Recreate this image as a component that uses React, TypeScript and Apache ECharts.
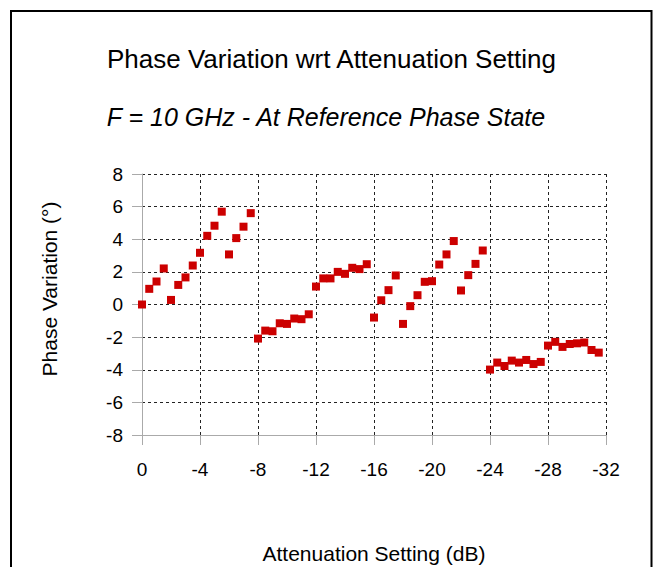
import React, { useEffect, useRef } from "react";
import * as echarts from "echarts";

const attenuation: number[] = [
  0, -0.5, -1, -1.5, -2, -2.5, -3, -3.5, -4, -4.5, -5, -5.5, -6, -6.5, -7, -7.5,
  -8, -8.5, -9, -9.5, -10, -10.5, -11, -11.5, -12, -12.5, -13, -13.5, -14, -14.5, -15, -15.5,
  -16, -16.5, -17, -17.5, -18, -18.5, -19, -19.5, -20, -20.5, -21, -21.5, -22, -22.5, -23, -23.5,
  -24, -24.5, -25, -25.5, -26, -26.5, -27, -27.5, -28, -28.5, -29, -29.5, -30, -30.5, -31, -31.5,
];

const phaseVariation: number[] = [
  0, 0.96, 1.41, 2.21, 0.28, 1.2, 1.66, 2.39, 3.17, 4.21, 4.83, 5.69, 3.07, 4.07, 4.77, 5.6,
  -2.09, -1.6, -1.64, -1.15, -1.19, -0.86, -0.9, -0.6, 1.1, 1.6, 1.6, 2.0, 1.88, 2.25, 2.17, 2.47,
  -0.8, 0.26, 0.88, 1.78, -1.19, -0.1, 0.57, 1.39, 1.43, 2.45, 3.07, 3.89, 0.86, 1.8, 2.49, 3.31,
  -3.99, -3.56, -3.77, -3.44, -3.56, -3.4, -3.65, -3.52, -2.52, -2.29, -2.6, -2.42, -2.38, -2.33, -2.79, -2.95,
];

const titleText = "Phase Variation wrt Attenuation Setting";
const subtitleText = "F = 10 GHz - At Reference Phase State";
const xAxisName = "Attenuation Setting (dB)";
const yAxisName = "Phase Variation (°)";

const FONT = "'Liberation Sans', Arial, sans-serif";

export default function App() {
  const ref = useRef<HTMLDivElement>(null);

  useEffect(() => {
    if (!ref.current) return;
    const chart = echarts.init(ref.current, undefined, { renderer: "svg" });
    const points = attenuation.map((x, i) => [x, phaseVariation[i]]);
    chart.setOption({
      animation: false,
      backgroundColor: "#ffffff",
      textStyle: { fontFamily: FONT },
      grid: { left: 142, top: 174, width: 464, height: 261, containLabel: false },
      xAxis: {
        type: "value",
        min: -32,
        max: 0,
        interval: 4,
        inverse: true,
        axisLine: { show: true, onZero: false, lineStyle: { color: "#aaaaaa", width: 1 } },
        axisTick: { show: true, length: 10, lineStyle: { color: "#aaaaaa" } },
        axisLabel: { color: "#000", fontSize: 19, fontFamily: FONT, margin: 25 },
        splitLine: { show: true, lineStyle: { color: "#222", type: [3, 3], width: 1 } },
      },
      yAxis: {
        type: "value",
        min: -8,
        max: 8,
        interval: 2,
        axisLine: { show: true, onZero: false, lineStyle: { color: "#aaaaaa", width: 1 } },
        axisTick: { show: true, length: 10, lineStyle: { color: "#aaaaaa" } },
        axisLabel: { color: "#000", fontSize: 19, fontFamily: FONT, margin: 19 },
        splitLine: { show: true, lineStyle: { color: "#222", type: [3, 3], width: 1 } },
      },
      series: [
        {
          type: "scatter",
          data: points,
          symbol: "rect",
          symbolSize: 8,
          itemStyle: { color: "#CC0000", opacity: 1 },
        },
      ],
      graphic: [
        {
          type: "rect",
          shape: { x: 11, y: 11, width: 640.5, height: 620 },
          style: { fill: "none", stroke: "#000", lineWidth: 2 },
          silent: true,
        },
        {
          type: "text",
          x: 331.5,
          y: 59,
          style: {
            text: titleText,
            fill: "#000",
            font: `26px ${FONT}`,
            align: "center",
            verticalAlign: "middle",
          },
        },
        {
          type: "text",
          x: 326,
          y: 117,
          style: {
            text: subtitleText,
            fill: "#000",
            font: `italic 25px ${FONT}`,
            align: "center",
            verticalAlign: "middle",
          },
        },
        {
          type: "text",
          x: 374,
          y: 553,
          style: {
            text: xAxisName,
            fill: "#000",
            font: `21px ${FONT}`,
            align: "center",
            verticalAlign: "middle",
          },
        },
        {
          type: "text",
          x: 49,
          y: 289,
          rotation: Math.PI / 2,
          style: {
            text: yAxisName,
            fill: "#000",
            font: `21px ${FONT}`,
            align: "center",
            verticalAlign: "middle",
          },
        },
      ],
    });
    return () => chart.dispose();
  }, []);

  return (
    <div
      ref={ref}
      style={{ position: "fixed", left: 0, top: 0, width: 658, height: 567, background: "#fff" }}
    />
  );
}
